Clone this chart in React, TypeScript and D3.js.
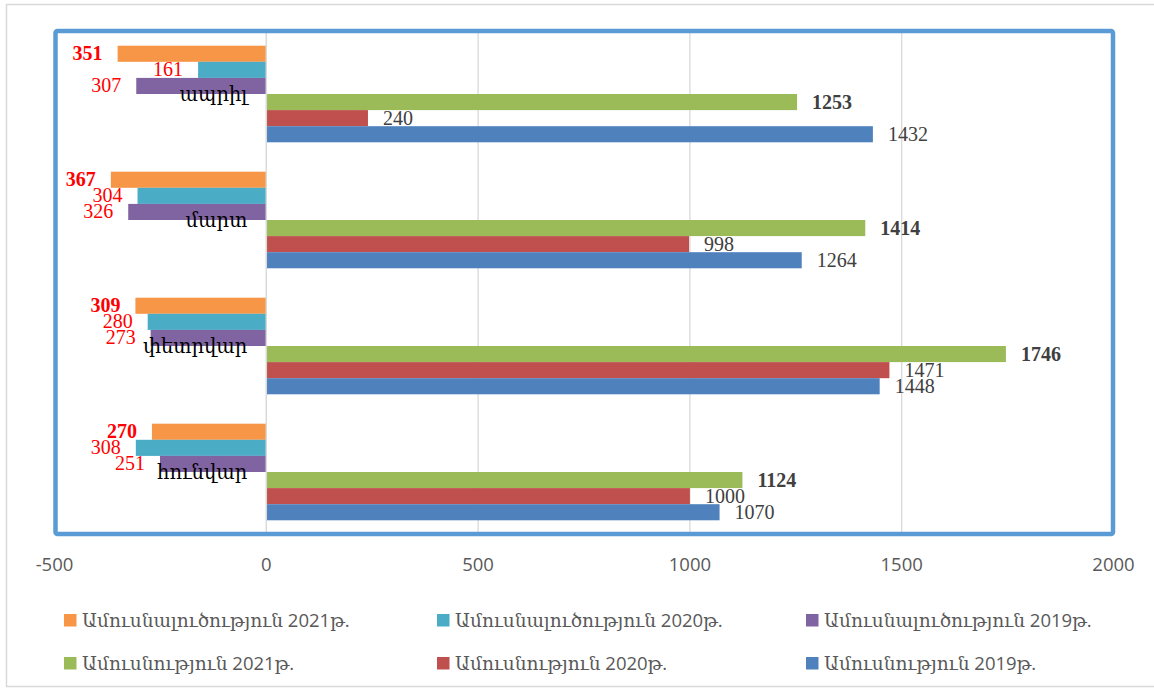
import React from "react";
import * as d3 from "d3";

const categories = ["ապրիլ", "մարտ", "փետրվար", "հունվար"];
// values per category in the order above (top to bottom)
const div2021 = [351, 367, 309, 270];
const div2020 = [161, 304, 280, 308];
const div2019 = [307, 326, 273, 251];
const mar2021 = [1253, 1414, 1746, 1124];
const mar2020 = [240, 998, 1471, 1000];
const mar2019 = [1432, 1264, 1448, 1070];
const xTicks = [-500, 0, 500, 1000, 1500, 2000];

const series = [
  { key: "d21", name: "Ամուսնալուծություն 2021թ.", values: div2021, color: "#f79646", sign: -1, bold: true },
  { key: "d20", name: "Ամուսնալուծություն 2020թ.", values: div2020, color: "#4bacc6", sign: -1, bold: false },
  { key: "d19", name: "Ամուսնալուծություն 2019թ.", values: div2019, color: "#8064a2", sign: -1, bold: false },
  { key: "m21", name: "Ամուսնություն 2021թ.", values: mar2021, color: "#9bbb59", sign: 1, bold: true },
  { key: "m20", name: "Ամուսնություն 2020թ.", values: mar2020, color: "#c0504d", sign: 1, bold: false },
  { key: "m19", name: "Ամուսնություն 2019թ.", values: mar2019, color: "#4f81bd", sign: 1, bold: false },
];

export default function App() {
  const W = 1154, H = 688;
  const x = d3.scaleLinear().domain([-500, 2000]).range([54.5, 1113.5]);
  const top = 31, bottom = 535;
  const y0 = d3.scaleBand<string>().domain(categories).range([top, bottom]).padding(0);
  const groupH = 96.6;
  const y1 = d3.scaleBand<string>().domain(series.map((s) => s.key)).range([0, groupH]).padding(0);
  const off = (y0.bandwidth() - groupH) / 2;
  const x0 = x(0);
  const armFont = '"DejaVu Serif", serif';
  const numFont = '"Liberation Serif", "Times New Roman", serif';
  const legendCols = [64, 437, 806];
  const legendRows = [614, 657];

  return (
    <svg width={W} height={H} style={{ position: "absolute", left: 0, top: 0, background: "#fff" }}>
      <rect x={6.5} y={4.5} width={1160} height={682} fill="#fff" stroke="#d9d9d9" strokeWidth={1.5} />
      {/* gridlines */}
      {xTicks.filter((t) => t > 0 && t < 2000).map((t) => (
        <line key={t} x1={x(t)} x2={x(t)} y1={top} y2={bottom - 2} stroke="#d9d9d9" strokeWidth={1.3} />
      ))}
      {/* bars */}
      {categories.map((c, ci) =>
        series.map((s) => {
          const v = s.values[ci];
          const yy = (y0(c) as number) + off + (y1(s.key) as number);
          const xa = s.sign < 0 ? x(-v) : x0;
          const w = Math.abs(x(s.sign * v) - x0);
          return <rect key={c + s.key} x={xa} y={yy} width={w} height={y1.bandwidth()} fill={s.color} />;
        })
      )}
      {/* zero axis line */}
      <line x1={x0} x2={x0} y1={top - 1} y2={bottom} stroke="#d9d9d9" strokeWidth={1.5} />
      {/* data labels */}
      {categories.map((c, ci) =>
        series.map((s) => {
          const v = s.values[ci];
          const yy = (y0(c) as number) + off + (y1(s.key) as number) + y1.bandwidth() / 2;
          const end = x(s.sign * v);
          const neg = s.sign < 0;
          return (
            <text
              key={"l" + c + s.key}
              x={neg ? end - 15 : end + 15}
              y={yy + 6.5}
              textAnchor={neg ? "end" : "start"}
              fontFamily={numFont}
              fontSize={20}
              fontWeight={s.bold ? 700 : 400}
              fill={neg ? "#ff0000" : "#404040"}
            >
              {v}
            </text>
          );
        })
      )}
      {/* category labels */}
      {categories.map((c) => (
        <text key={"c" + c} x={x0 - 19} y={(y0(c) as number) + y0.bandwidth() / 2 + 7} textAnchor="end"
          fontFamily={armFont} fontSize={19.5} fill="#000">
          {c}
        </text>
      ))}
      {/* plot frame */}
      <rect x={55.5} y={31} width={1057.5} height={503} rx={2} fill="none" stroke="#5b9bd5" strokeWidth={4.5} />
      {/* x tick labels */}
      {xTicks.map((t) => (
        <text key={"t" + t} x={x(t)} y={571} textAnchor="middle" fontFamily='"Open Sans", sans-serif'
          fontSize={18.5} fill="#595959">
          {t}
        </text>
      ))}
      {/* legend */}
      {series.map((s, i) => {
        const lx = legendCols[i % 3];
        const ly = legendRows[Math.floor(i / 3)];
        return (
          <g key={"lg" + s.key}>
            <rect x={lx} y={ly} width={12.5} height={12.5} fill={s.color} />
            <text x={lx + 18} y={ly + 13} fontFamily={'"Open Sans", ' + armFont} fontSize={18.5} fill="#595959">
              {s.name}
            </text>
          </g>
        );
      })}
    </svg>
  );
}
